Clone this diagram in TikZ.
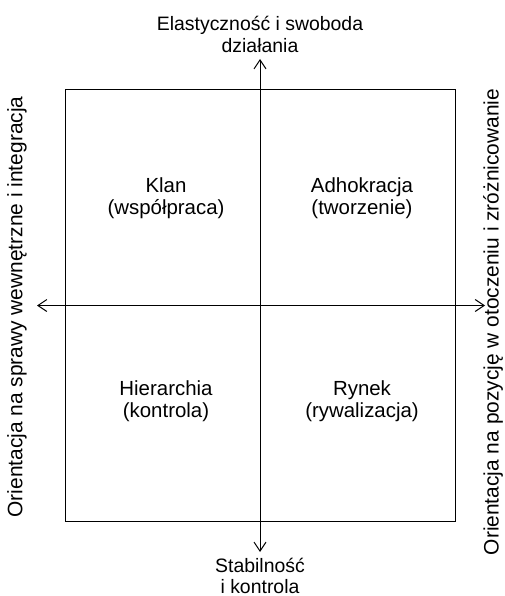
\documentclass[tikz,border=0pt]{standalone}
\usepackage{fontspec}
\setmainfont{Liberation Sans}
\usetikzlibrary{arrows.meta}

\tikzset{
  axis/.style={line width=1bp, -{Straight Barb[length=9bp,width=12bp]}},
  quad/.style={draw=none, align=center, anchor=base, font=\fontsize{20.5}{21.5}\selectfont},
  lbl/.style={draw=none, align=center, anchor=base, font=\fontsize{19.5}{23}\selectfont},
  side/.style={draw=none, rotate=90, font=\fontsize{21}{24}\selectfont}
}

\begin{document}
\begin{tikzpicture}[x=1bp, y=-1bp]
             \useasboundingbox (0,0) rectangle (505,596);

             % frame
             \draw[line width=1bp] (65,90) rectangle (455,521);

             % axis ends
             \coordinate (c) at (260,305.5);
             \coordinate (up) at (260,59);
             \coordinate (down) at (260,552);
             \coordinate (left) at (37,305.5);
             \coordinate (right) at (485,305.5);

             \draw[axis] (c) -- (up);
             \draw[axis] (c) -- (down);
             \draw[axis] (c) -- (left);
             \draw[axis] (c) -- (right);

             % axis labels (anchored at the last baseline)
             \node[lbl] (top) at (260,53) {Elastyczność i swoboda\\działania};
             \node[lbl, font=\fontsize{19.5}{21}\selectfont] (bottom) at (260,593) {Stabilność\\i kontrola};
             \node[side] (west) at (17,307) {Orientacja na sprawy wewnętrzne i integracja};
             \node[side] (east) at (493,322) {Orientacja na pozycję w otoczeniu i zróżnicowanie};

             % quadrants
             \node[quad] (klan) at (166,214) {Klan\\(współpraca)};
             \node[quad] (adhokracja) at (362,214) {Adhokracja\\(tworzenie)};
             \node[quad] (hierarchia) at (166,417) {Hierarchia\\(kontrola)};
             \node[quad] (rynek) at (362,417) {Rynek\\(rywalizacja)};
\end{tikzpicture}
\end{document}
